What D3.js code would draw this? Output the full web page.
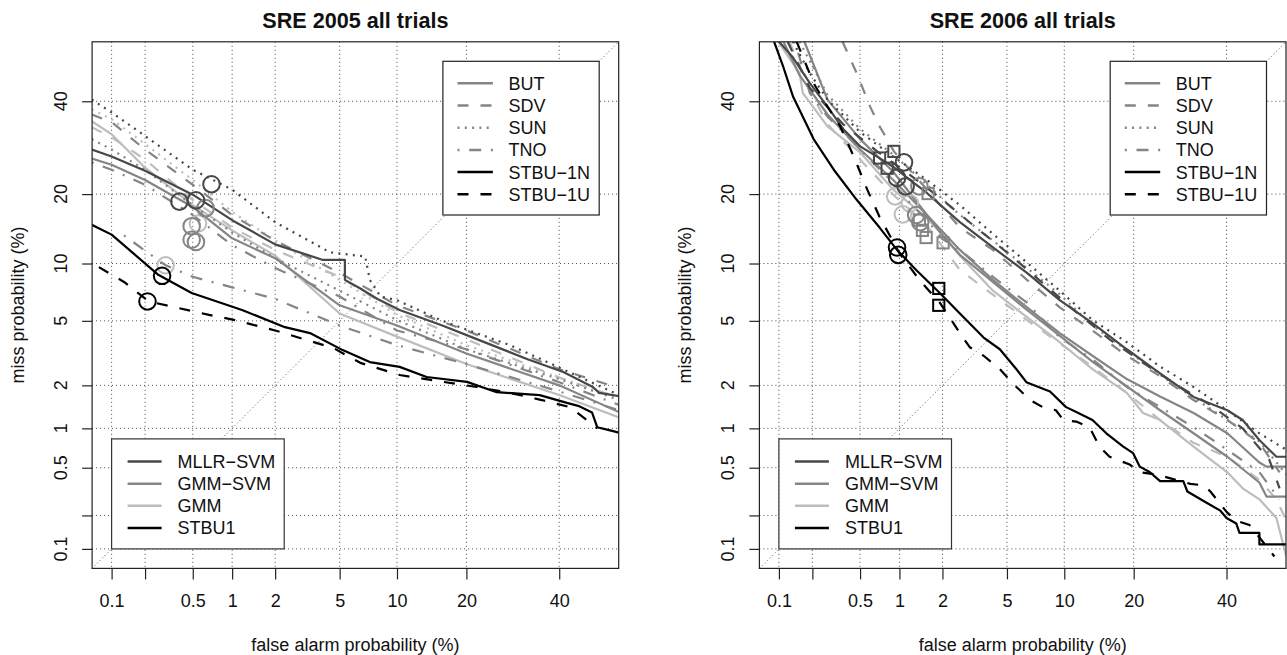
<!DOCTYPE html>
<html>
<head>
<meta charset="utf-8">
<script src="https://cdn.jsdelivr.net/npm/d3@7"></script>
<style>
  body { margin: 0; background: #fff; }
  svg text { font-family: "Liberation Sans", Arial, Helvetica, sans-serif; fill: #111; }
</style>
</head>
<body>
<svg id="chart" width="1287" height="655"></svg>
<script>
// tick positions (percent) and their labels
const probTicks = [0.1, 0.2, 0.5, 1, 2, 5, 10, 20, 40];
const probLabels = ["0.1", "", "0.5", "1", "2", "5", "10", "20", "40"];

// ---- SRE 2005: DET curves, [false alarm %, miss %] ----
const sre05MllrBut = [[0.065,28.8],[0.1,27.3],[0.2,24.4],[0.5,19.9],[1,15.7],[2,12.3],[4.0,10.4],[5.35,10.4],[5.35,8.3],[6.5,7.5],[8.0,6.6],[10.3,5.75],[16,4.7],[22,3.9],[32.5,2.95],[41,2.45],[48.4,1.95],[50,1.78],[55,1.69]];
const sre05MllrSun = [[0.065,40.4],[0.1,37.3],[0.2,31.8],[0.5,24.6],[1,20.8],[2,15.4],[4.4,11.3],[6.9,10.8],[7.3,8.3],[8.3,6.8],[10,6.5],[16,5.0],[28.6,3.6],[40.2,2.6],[55,1.72]];
const sre05GmmsvmBut = [[0.065,26.9],[0.1,25.6],[0.2,22.6],[0.5,17.8],[1,13.1],[2,10.6],[5,6.1],[10,4.7],[20,3.2],[40,2.0],[55,1.31]];
const sre05GmmBut = [[0.065,35.2],[0.1,32.2],[0.2,25.0],[0.5,18.1],[1,14.2],[2,10.9],[5,5.5],[10,4.05],[20,2.75],[40,1.72],[55,1.20]];
const sre05GmmsvmSdv = [[0.065,36.8],[0.1,35.0],[0.2,28.8],[0.5,21.7],[1,16.5],[2,12.8],[5,9.0],[10,6.1],[20,4.4],[40,2.55],[55,1.92]];
const sre05GmmSdv = [[0.065,33.8],[0.1,31.5],[0.2,26.7],[0.5,19.0],[1,14.6],[2,11.6],[5,8.6],[10,5.6],[20,3.9],[40,2.25],[55,1.65]];
const sre05GmmsvmTno = [[0.065,26.1],[0.1,24.6],[0.2,21.7],[0.5,16.5],[1,12.2],[2,9.5],[5,6.8],[10,4.4],[20,3.4],[40,2.1],[55,1.47]];
const sre05GmmsvmSun = [[0.065,31.1],[0.1,28.8],[0.2,24.6],[0.5,18.1],[1,13.9],[2,10.6],[5,7.3],[10,5.05],[20,3.4],[40,2.2],[55,1.59]];
const sre05GmmTno = [[0.13,13.5],[0.2,11.5],[0.3,9.8],[0.5,8.6],[1,7.6],[2,6.6],[5,4.7],[10,3.6],[20,2.75],[40,1.82],[55,1.35]];
const sre05GmmSun = [[0.065,38.0],[0.1,35.7],[0.2,30.0],[0.5,22.6],[1,17.0],[2,12.8],[5,8.3],[10,5.4],[20,3.6],[40,2.25],[55,1.65]];
const sre05Stbu1n = [[0.065,15],[0.1,13.6],[0.26,8.8],[0.49,7.1],[1.18,5.75],[2.32,4.6],[3.34,4.25],[5.2,3.36],[7.3,2.83],[10.3,2.64],[13.7,2.27],[20.1,2.11],[25.8,1.80],[35.3,1.72],[41.9,1.52],[44.7,1.45],[48.2,1.3],[49.5,1.02],[52.5,0.97],[55,0.93]];
const sre05Stbu1u = [[0.076,9.6],[0.13,8.1],[0.215,6.4],[0.34,6.0],[0.67,5.4],[1.05,5.05],[2.0,4.4],[4.6,3.46],[6.5,2.8],[10.3,2.34],[16.1,2.11],[21.9,1.95],[28.6,1.78],[35.8,1.59],[42.6,1.42],[46.9,1.15],[49.5,1.0]];
// operating points (circles)
const sre05CircDark = [[0.39,18.7],[0.53,18.9],[0.70,21.8]];
const sre05CircMid = [[0.63,17.6],[0.49,14.8],[0.49,12.9],[0.53,12.6]];
const sre05CircLight = [[0.55,15.2],[0.30,9.8]];
const sre05CircBlack = [[0.28,8.7],[0.21,6.4]];

// ---- SRE 2006 ----
const sre06MllrBut = [[0.10,55],[0.134,51],[0.19,44.5],[0.27,38.7],[0.365,33.4],[0.50,29.5],[0.68,27.3],[0.90,25.2],[1.19,22.6],[1.57,20.2],[2.0,17.8],[2.6,15.4],[4.15,11.9],[6.45,9.0],[9.5,6.5],[13.5,4.85],[18.8,3.4],[25,2.4],[32.2,1.67],[40.2,1.35],[44,1.15],[48.2,0.82],[52.5,0.61],[55,0.61]];
const sre06MllrSun = [[0.134,55],[0.19,47.0],[0.27,40.4],[0.50,32.7],[0.90,27.3],[1.57,22.6],[2.6,18.1],[4.15,13.7],[6.45,10.1],[9.5,7.3],[13.5,5.05],[18.8,3.75],[25,2.65],[32.2,1.95],[40.2,1.35],[48.2,0.92],[55,0.69]];
const sre06MllrSdv = [[0.12,55],[0.19,43.3],[0.365,34.5],[0.68,28.4],[1.19,23.6],[2.0,19.0],[3.32,14.5],[5.2,11.0],[7.8,8.0],[11.4,5.6],[16,3.9],[21.7,2.8],[28.6,2.0],[36.1,1.47],[44,1.0],[50.7,0.58],[53.3,0.34]];
const sre06GmmsvmSdv = [[0.36,55],[0.47,47.0],[0.60,38.7],[0.71,34.0],[0.81,31.1],[0.91,28.4],[1.57,20.8],[2.6,14.6],[4.15,11.6],[6.45,8.3],[9.5,5.95],[13.5,4.4],[18.8,3.1],[25,2.3],[32.2,1.59],[40.2,1.15],[48.2,0.78],[53.3,0.46]];
const sre06GmmsvmBut = [[0.11,55],[0.154,46.5],[0.27,36.8],[0.50,28.8],[0.90,22.6],[1.57,16.5],[2.6,11.6],[4.15,8.3],[6.45,5.95],[9.5,4.25],[13.5,3.1],[18.8,2.2],[25,1.68],[32.2,1.29],[40.2,0.92],[48.2,0.55],[50,0.51],[55,0.51]];
const sre06GmmsvmSun = [[0.154,55],[0.27,41.6],[0.50,33.4],[0.90,27.7],[1.57,21.7],[2.6,16.5],[4.15,12.8],[6.45,9.5],[9.5,7.0],[13.5,4.7],[18.8,3.35],[25,2.35],[32.2,1.65],[40.2,1.15],[48.2,0.8],[55,0.44]];
const sre06GmmsvmTno = [[0.14,55],[0.19,42.0],[0.27,36.3],[0.365,32.7],[0.50,28.8],[0.68,25.2],[0.90,22.0],[1.19,18.5],[1.57,15.7],[2.0,13.0],[2.6,11.6],[4.15,8.6],[6.45,6.3],[9.5,4.0],[13.5,2.95],[18.8,1.95],[25,1.42],[32.2,1.02],[40.2,0.69],[48.2,0.46],[53.3,0.275]];
const sre06GmmsvmAlt = [[0.17,55],[0.27,40.4],[0.50,31.1],[0.90,24.2],[1.57,16.5],[2.0,13.5],[2.6,11.0],[6.45,5.75],[13.5,2.85],[25,1.35],[32.2,0.92],[40.2,0.61],[48.2,0.38],[50,0.29],[55,0.29]];
const sre06GmmBut = [[0.098,55],[0.154,47.0],[0.165,42.0],[0.27,34.0],[0.50,28.2],[0.90,20.8],[1.57,16.0],[2.0,13.6],[2.6,10.9],[4.15,7.3],[6.45,5.25],[9.5,3.75],[13.5,2.55],[18.8,1.78],[21.7,1.29],[25,1.15],[32.2,0.73],[40.2,0.46],[44,0.34],[48.2,0.275],[52.5,0.19],[55,0.085]];
const sre06GmmSdv = [[0.125,55],[0.19,42.8],[0.27,34.5],[0.50,26.7],[0.90,19.9],[1.57,14.9],[2.6,9.3],[6.45,5.05],[13.5,2.65],[18.8,1.78],[25,1.15],[32.2,0.78],[40.2,0.61],[48.2,0.40],[52.5,0.275],[55,0.18]];
const sre06Stbu1n = [[0.09,55],[0.11,48.5],[0.135,41.1],[0.205,31.1],[0.305,24.6],[0.47,19.0],[0.71,14.6],[0.96,11.6],[1.32,9.3],[1.92,7.1],[2.6,5.5],[3.65,4.0],[4.55,3.4],[5.65,2.55],[6.4,2.1],[8.5,1.82],[10.2,1.42],[11.4,1.31],[13.5,1.15],[15.5,0.92],[18.2,0.73],[19.9,0.65],[21.1,0.51],[23.0,0.46],[25.0,0.39],[29.9,0.39],[30.8,0.32],[34.6,0.265],[38.5,0.22],[40.0,0.19],[42.4,0.17],[43.2,0.14],[48.2,0.14],[48.2,0.11],[55,0.11]];
const sre06Stbu1u = [[0.145,55],[0.205,44.5],[0.27,38.7],[0.345,34.0],[0.445,27.3],[0.57,20.8],[0.71,16.2],[1.0,11.2],[1.39,8.3],[1.92,6.3],[2.6,4.25],[3.0,3.5],[3.65,3.1],[4.55,2.55],[5.65,1.95],[6.7,1.59],[7.8,1.42],[9.1,1.35],[9.9,1.15],[11.4,1.12],[13.1,1.02],[14.5,0.73],[16.0,0.61],[19.3,0.53],[21.1,0.46],[24.4,0.44],[31.5,0.37],[34.6,0.36],[36.1,0.32],[40.0,0.215],[42.4,0.18],[45.7,0.165],[50.7,0.098],[52,0.085]];
const sre06CircDark = [[1.08,26.1],[0.96,23.0],[1.11,21.4]];
const sre06CircMid = [[1.39,21.4],[1.32,16.5],[1.41,15.4]];
const sre06CircLight = [[0.93,19.6],[1.19,18.4],[1.06,16.6]];
const sre06CircBlack = [[0.96,11.9],[0.98,11.0]];
const sre06SqDark = [[0.71,27.0],[0.91,28.4],[0.81,24.9]];
const sre06SqMid = [[1.60,20.1],[1.39,15.7],[1.46,14.2],[1.55,13.2],[2.02,12.5]];
const sre06SqBlack = [[1.89,7.5],[1.89,6.1]];

// legend entries
const siteNames = ["BUT", "SDV", "SUN", "TNO", "STBU\u22121N", "STBU\u22121U"];
const systemNames = ["MLLR\u2212SVM", "GMM\u2212SVM", "GMM", "STBU1"];

// ---- styling ----
const col = { dark: "#474747", mid: "#858585", light: "#bdbdbd", black: "#000" };
const dash = { solid: null, dashed: "11 12", dotted: "2 5.3", dotdash: "2 9.7 12 9.7" };

// inverse normal CDF (Acklam) for the DET (probit) axes
function probit(p) {
  const a = [-39.69683028665376, 220.9460984245205, -275.9285104469687, 138.3577518672690, -30.66479806614716, 2.506628277459239];
  const b = [-54.47609879822406, 161.5858368580409, -155.6989798598866, 66.80131188771972, -13.28068155288572];
  const c = [-0.007784894002430293, -0.3223964580411365, -2.400758277161838, -2.549732539343734, 4.374664141464968, 2.938163982698783];
  const d = [0.007784695709041462, 0.3224671290700398, 2.445134137142996, 3.754408661907416];
  const pl = 0.02425;
  let q, r;
  if (p < pl) {
    q = Math.sqrt(-2 * Math.log(p));
    return (((((c[0]*q+c[1])*q+c[2])*q+c[3])*q+c[4])*q+c[5]) / ((((d[0]*q+d[1])*q+d[2])*q+d[3])*q+1);
  }
  if (p <= 1 - pl) {
    q = p - 0.5; r = q * q;
    return (((((a[0]*r+a[1])*r+a[2])*r+a[3])*r+a[4])*r+a[5])*q / (((((b[0]*r+b[1])*r+b[2])*r+b[3])*r+b[4])*r+1);
  }
  q = Math.sqrt(-2 * Math.log(1 - p));
  return -(((((c[0]*q+c[1])*q+c[2])*q+c[3])*q+c[4])*q+c[5]) / ((((d[0]*q+d[1])*q+d[2])*q+d[3])*q+1);
}

const TOP = 41.8, SIZE = 526.6;
const lo = probit(0.001), hi = probit(0.5), pad = (hi - lo) * 0.04;
const zDomain = [lo - pad, hi + pad];

const panels = [
  { id: "a", left: 92.1, title: "SRE 2005 all trials",
    curves: [
      { data: sre05GmmBut, c: "light", lt: "solid" },
      { data: sre05GmmSdv, c: "light", lt: "dashed" },
      { data: sre05GmmSun, c: "light", lt: "dotted" },
      { data: sre05GmmTno, c: "mid", lt: "dotdash" },
      { data: sre05GmmsvmBut, c: "mid", lt: "solid" },
      { data: sre05GmmsvmSdv, c: "mid", lt: "dashed" },
      { data: sre05GmmsvmTno, c: "mid", lt: "dotdash" },
      { data: sre05GmmsvmSun, c: "mid", lt: "dotted" },
      { data: sre05MllrBut, c: "dark", lt: "solid" },
      { data: sre05MllrSun, c: "dark", lt: "dotted" },
      { data: sre05Stbu1n, c: "black", lt: "solid" },
      { data: sre05Stbu1u, c: "black", lt: "dashed" }
    ],
    circles: [[sre05CircLight, "light"], [sre05CircMid, "mid"], [sre05CircDark, "dark"], [sre05CircBlack, "black"]],
    squares: []
  },
  { id: "b", left: 759.4, title: "SRE 2006 all trials",
    curves: [
      { data: sre06GmmBut, c: "light", lt: "solid" },
      { data: sre06GmmSdv, c: "light", lt: "dashed" },
      { data: sre06GmmsvmAlt, c: "mid", lt: "solid" },
      { data: sre06GmmsvmTno, c: "mid", lt: "dotdash" },
      { data: sre06GmmsvmBut, c: "mid", lt: "solid" },
      { data: sre06GmmsvmSun, c: "mid", lt: "dotted" },
      { data: sre06GmmsvmSdv, c: "mid", lt: "dashed" },
      { data: sre06MllrSdv, c: "dark", lt: "dashed" },
      { data: sre06MllrSun, c: "dark", lt: "dotted" },
      { data: sre06MllrBut, c: "dark", lt: "solid" },
      { data: sre06Stbu1u, c: "black", lt: "dashed" },
      { data: sre06Stbu1n, c: "black", lt: "solid" }
    ],
    circles: [[sre06CircLight, "light"], [sre06CircMid, "mid"], [sre06CircDark, "dark"], [sre06CircBlack, "black"]],
    squares: [[sre06SqMid, "mid"], [sre06SqDark, "dark"], [sre06SqBlack, "black"]]
  }
];

const svg = d3.select("#chart");

function drawPanel(cfg) {
  const sx = d3.scaleLinear().domain(zDomain).range([cfg.left, cfg.left + SIZE]);
  const sy = d3.scaleLinear().domain(zDomain).range([TOP + SIZE, TOP]);
  const px = v => sx(probit(v / 100));
  const py = v => sy(probit(v / 100));
  const bottom = TOP + SIZE;
  const g = svg.append("g");

  const clipId = "clip-" + cfg.id;
  svg.append("clipPath").attr("id", clipId).append("rect")
    .attr("x", cfg.left).attr("y", TOP).attr("width", SIZE).attr("height", SIZE);

  // grid
  const grid = g.append("g").attr("stroke", "#4a4a4a").attr("stroke-width", 1).attr("stroke-dasharray", "1 3");
  grid.selectAll(".gx").data(probTicks).join("line")
    .attr("x1", px).attr("x2", px).attr("y1", TOP).attr("y2", bottom);
  grid.selectAll(".gy").data(probTicks).join("line")
    .attr("y1", py).attr("y2", py).attr("x1", cfg.left).attr("x2", cfg.left + SIZE);
  // diagonal (miss = false alarm)
  g.append("line")
    .attr("x1", sx(zDomain[0])).attr("y1", sy(zDomain[0]))
    .attr("x2", sx(zDomain[1])).attr("y2", sy(zDomain[1]))
    .attr("stroke", "#555").attr("stroke-width", 1).attr("stroke-dasharray", "1 2.6");

  // DET curves
  const line = d3.line().x(d => px(d[0])).y(d => py(d[1]));
  const cg = g.append("g").attr("clip-path", `url(#${clipId})`);
  cg.selectAll("path").data(cfg.curves).join("path")
    .attr("d", d => line(d.data))
    .attr("fill", "none")
    .attr("stroke", d => col[d.c])
    .attr("stroke-width", 2.2)
    .attr("stroke-linejoin", "round")
    .attr("stroke-dasharray", d => dash[d.lt]);

  // operating points
  cfg.circles.forEach(([pts, c]) => {
    cg.append("g").selectAll("circle").data(pts).join("circle")
      .attr("cx", d => px(d[0])).attr("cy", d => py(d[1])).attr("r", 8.3)
      .attr("fill", "none").attr("stroke", col[c]).attr("stroke-width", 2);
  });
  cfg.squares.forEach(([pts, c]) => {
    cg.append("g").selectAll("rect").data(pts).join("rect")
      .attr("x", d => px(d[0]) - 5.6).attr("y", d => py(d[1]) - 5.6)
      .attr("width", 11.2).attr("height", 11.2)
      .attr("fill", "none").attr("stroke", col[c]).attr("stroke-width", 2);
  });

  // box
  g.append("rect").attr("x", cfg.left).attr("y", TOP).attr("width", SIZE).attr("height", SIZE)
    .attr("fill", "none").attr("stroke", "#222").attr("stroke-width", 1.2);

  // axes
  const zt = probTicks.map(v => probit(v / 100));
  const xAxis = g.append("g").attr("transform", `translate(0,${bottom})`)
    .call(d3.axisBottom(sx).tickValues(zt).tickSize(11).tickPadding(14.5)
      .tickFormat((d, i) => probLabels[i]));
  xAxis.select(".domain").remove();
  xAxis.selectAll("line").attr("stroke", "#222").attr("stroke-width", 1.2);
  xAxis.selectAll("text").attr("font-size", 18).attr("fill", "#111")
    .style("font-family", "'Liberation Sans', Arial, sans-serif");

  const yAxis = g.append("g").attr("transform", `translate(${cfg.left},0)`)
    .call(d3.axisLeft(sy).tickValues(zt).tickSize(10).tickFormat(""));
  yAxis.select(".domain").remove();
  yAxis.selectAll("line").attr("stroke", "#222").attr("stroke-width", 1.2);
  g.append("g").selectAll("text").data(probTicks.map((v, i) => [v, probLabels[i]])).join("text")
    .attr("transform", d => `translate(${cfg.left - 25.5},${py(d[0])}) rotate(-90)`)
    .attr("text-anchor", "middle").attr("font-size", 18)
    .text(d => d[1]);

  // titles and axis labels
  g.append("text").attr("x", cfg.left + SIZE / 2).attr("y", 28.3)
    .attr("text-anchor", "middle").attr("font-size", 21.6).attr("font-weight", "bold")
    .text(cfg.title);
  g.append("text").attr("x", cfg.left + SIZE / 2).attr("y", 651)
    .attr("text-anchor", "middle").attr("font-size", 18)
    .text("false alarm probability (%)");
  g.append("text")
    .attr("transform", `translate(${cfg.left - 68.6},${TOP + SIZE / 2}) rotate(-90)`)
    .attr("text-anchor", "middle").attr("font-size", 18)
    .text("miss probability (%)");

  // legend: sites (top right corner at 50%, 50%)
  const l1w = 156.3, l1h = 153.7;
  const l1 = g.append("g").attr("transform", `translate(${px(50) - l1w},${py(50)})`);
  l1.append("rect").attr("width", l1w).attr("height", l1h)
    .attr("fill", "#fff").attr("stroke", "#222").attr("stroke-width", 1.2);
  const siteStyles = [["mid", "solid"], ["mid", "dashed"], ["mid", "dotted"], ["mid", "dotdash"], ["black", "solid"], ["black", "dashed"]];
  siteNames.forEach((name, i) => {
    const y = 22 + i * 22.2;
    l1.append("line").attr("x1", 14.6).attr("x2", 50).attr("y1", y).attr("y2", y)
      .attr("stroke", col[siteStyles[i][0]]).attr("stroke-width", 2.5)
      .attr("stroke-dasharray", dash[siteStyles[i][1]]);
    l1.append("text").attr("x", 65.6).attr("y", y + 6.5).attr("font-size", 18).text(name);
  });

  // legend: systems (bottom left corner at 0.1%, 0.1%)
  const l2w = 172.6, l2h = 110;
  const l2 = g.append("g").attr("transform", `translate(${px(0.1)},${py(0.1) - l2h})`);
  l2.append("rect").attr("width", l2w).attr("height", l2h)
    .attr("fill", "#fff").attr("stroke", "#333").attr("stroke-width", 1.2);
  const sysCols = ["dark", "mid", "light", "black"];
  systemNames.forEach((name, i) => {
    const y = 22.7 + i * 22.1;
    l2.append("line").attr("x1", 16).attr("x2", 50).attr("y1", y).attr("y2", y)
      .attr("stroke", col[sysCols[i]]).attr("stroke-width", 2.5);
    l2.append("text").attr("x", 66).attr("y", y + 6.5).attr("font-size", 18).text(name);
  });
}

panels.forEach(drawPanel);
</script>
</body>
</html>
